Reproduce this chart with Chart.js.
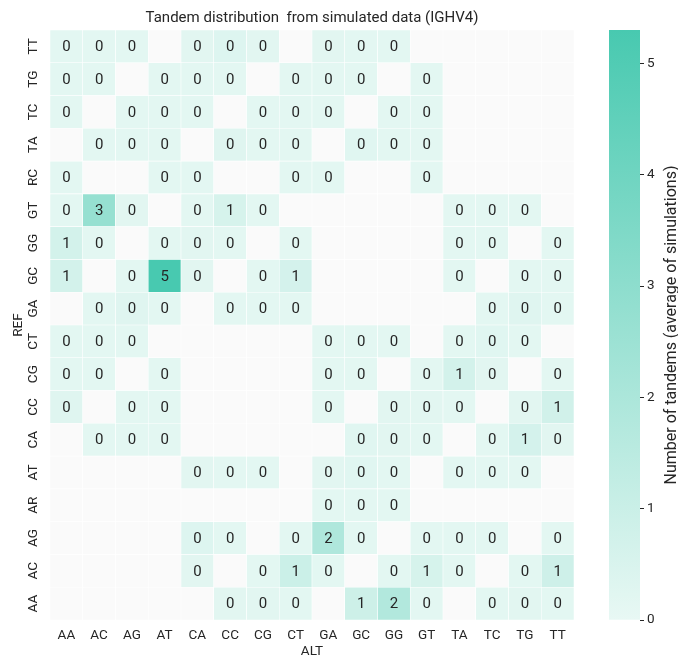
<!DOCTYPE html>
<html><head><meta charset="utf-8">
<script src="https://cdn.jsdelivr.net/npm/chart.js@4"></script>
<style>
html,body{margin:0;padding:0;background:#fff;}
#wrap{position:relative;width:678px;height:660px;overflow:hidden;}
#main{position:absolute;left:0;top:0;}
#cb{position:absolute;left:600px;top:0;}
</style></head><body>
<div id="wrap">
<canvas id="main" width="600" height="660"></canvas>
<canvas id="cb" width="78" height="660"></canvas>
</div>
<script>
const altLabels = ['AA','AC','AG','AT','CA','CC','CG','CT','GA','GC','GG','GT','TA','TC','TG','TT'];
const refLabels = ['TT','TG','TC','TA','RC','GT','GG','GC','GA','CT','CG','CC','CA','AT','AR','AG','AC','AA'];
const _ = null;
const values = [
  [0.15,0.15,0.15,_,0.2,0.35,0.2,_,0.2,0.15,0.15,_,_,_,_,_],        // TT
  [0.15,0.15,_,0.15,0.15,0.15,_,0.15,0.15,0.15,_,0.15,_,_,_,_],       // TG
  [0.15,_,0.15,0.15,0.15,_,0.15,0.15,0.15,_,0.15,0.15,_,_,_,_],       // TC
  [_,0.15,0.15,0.15,_,0.3,0.15,0.15,_,0.25,0.15,0.15,_,_,_,_],        // TA
  [0.15,_,_,0.15,0.15,_,_,0.15,0.15,_,_,0.15,_,_,_,_],                // RC
  [0.15,2.7,0.2,_,0.15,0.6,0.15,_,_,_,_,_,0.15,0.15,0.15,_],          // GT
  [0.7,0.15,_,0.15,0.2,0.15,_,0.15,_,_,_,_,0.15,0.15,_,0.15],         // GG
  [0.7,_,0.15,5.3,0.2,_,0.15,0.65,_,_,_,_,0.15,_,0.15,0.15],          // GC
  [_,0.15,0.3,0.15,_,0.15,0.15,0.15,_,_,_,_,_,0.15,0.3,0.15],         // GA
  [0.15,0.15,0.15,_,_,_,_,_,0.15,0.15,0.15,_,0.15,0.25,0.15,_],       // CT
  [0.15,0.15,_,0.15,_,_,_,_,0.15,0.15,_,0.15,0.7,0.2,_,0.15],         // CG
  [0.3,_,0.15,0.15,_,_,_,_,0.15,_,0.2,0.2,0.15,_,0.2,0.75],           // CC
  [_,0.15,0.15,0.15,_,_,_,_,_,0.25,0.2,0.15,_,0.15,0.65,0.2],         // CA
  [_,_,_,_,0.2,0.15,0.15,_,0.2,0.25,0.15,_,0.15,0.15,0.15,_],         // AT
  [_,_,_,_,_,_,_,_,0.15,0.15,0.15,_,_,_,_,_],                         // AR
  [_,_,_,_,0.35,0.15,_,0.15,1.9,0.15,_,0.15,0.15,0.15,_,0.15],        // AG
  [_,_,_,_,0.2,_,0.15,0.95,0.15,_,0.15,0.6,0.15,_,0.15,0.85],         // AC
  [_,_,_,_,_,0.2,0.2,0.15,_,0.9,1.8,0.15,_,0.15,0.2,0.15]             // AA
];
const cbTicks = [0,1,2,3,4,5];
const vmax = 5.3;

const lowRGB = [232,248,244], highRGB = [72,201,176];
const FONT = 'Roboto';
const TXT = '#262626';
const TICK = 13.5;
function colorFor(v){
  if (v === null) return '#fafafa';
  const t = Math.max(0, Math.min(1, v / vmax));
  const c = lowRGB.map((l,i)=>Math.round(l + (highRGB[i]-l)*t));
  return `rgb(${c[0]},${c[1]},${c[2]})`;
}

const nR = refLabels.length;
const datasets = refLabels.map((r,i)=>({
  label: r,
  vals: values[i],
  data: altLabels.map(()=>1),
  backgroundColor: values[i].map(colorFor),
  borderColor: '#ffffff',
  borderWidth: 0.6,
  borderSkipped: false,
  barPercentage: 1,
  categoryPercentage: 1
})).reverse();

const annot = {
  id: 'annot',
  afterDatasetsDraw(chart){
    const ctx = chart.ctx;
    ctx.save();
    ctx.font = `15px ${FONT}`;
    ctx.fillStyle = TXT;
    ctx.textAlign = 'center';
    ctx.textBaseline = 'middle';
    chart.data.datasets.forEach((ds, di)=>{
      const meta = chart.getDatasetMeta(di);
      meta.data.forEach((bar, j)=>{
        const v = ds.vals[j];
        if (v === null) return;
        const p = bar.getProps(['x','y','base'], true);
        ctx.fillText(String(Math.round(v)), p.x, (p.y + p.base)/2 + 1);
      });
    });
    ctx.restore();
  }
};

new Chart(document.getElementById('main'), {
  type: 'bar',
  data: { labels: altLabels, datasets },
  options: {
    responsive: false,
    animation: false,
    layout: { padding: { left: 0, right: 26, top: 0, bottom: 0 } },
    plugins: {
      legend: { display: false },
      tooltip: { enabled: false },
      title: {
        display: true,
        fullSize: false,
        text: 'Tandem distribution  from simulated data (IGHV4)',
        font: { family: FONT, size: 15, weight: 'normal' },
        color: TXT,
        padding: { top: 9, bottom: 3 }
      }
    },
    scales: {
      x: {
        stacked: true,
        grid: { display: false, drawTicks: false },
        border: { display: false },
        ticks: { font: { family: FONT, size: TICK }, color: TXT, padding: 8 },
        title: { display: true, text: 'ALT', font: { family: FONT, size: TICK }, color: TXT, padding: { top: 0, bottom: 0 } },
        afterFit: s => { s.height = 40; }
      },
      y: {
        type: 'linear',
        stacked: true,
        min: 0, max: nR,
        afterBuildTicks: s => { s.ticks = refLabels.map((_,i)=>({ value: i + 0.5 })); },
        grid: { display: false, drawTicks: false },
        border: { display: false },
        ticks: {
          autoSkip: false,
          minRotation: 90, maxRotation: 90,
          crossAlign: 'center',
          padding: 7,
          font: { family: FONT, size: TICK }, color: TXT,
          callback: v => refLabels[nR - 1 - Math.floor(v)]
        },
        title: { display: true, text: 'REF', font: { family: FONT, size: TICK }, color: TXT, padding: { top: 11, bottom: 0 } },
        afterFit: s => { s.width = 50; }
      }
    }
  },
  plugins: [annot]
});

const cbTitle = {
  id: 'cbTitle',
  afterDraw(chart){
    const ctx = chart.ctx, ca = chart.chartArea;
    ctx.save();
    ctx.translate(76, (ca.top + ca.bottom)/2);
    ctx.rotate(-Math.PI/2);
    ctx.font = `16px ${FONT}`;
    ctx.fillStyle = TXT;
    ctx.textAlign = 'center';
    ctx.textBaseline = 'alphabetic';
    ctx.fillText('Number of tandems (average of simulations)', 0, 0);
    ctx.restore();
  }
};

new Chart(document.getElementById('cb'), {
  type: 'bar',
  data: {
    labels: [''],
    datasets: [{
      data: [[0, vmax]],
      backgroundColor: (c) => {
        const ca = c.chart.chartArea;
        if (!ca) return colorFor(vmax);
        const g = c.chart.ctx.createLinearGradient(0, ca.bottom, 0, ca.top);
        g.addColorStop(0, colorFor(0));
        g.addColorStop(1, colorFor(vmax));
        return g;
      },
      borderWidth: 0,
      barPercentage: 1,
      categoryPercentage: 1
    }]
  },
  options: {
    responsive: false,
    animation: false,
    layout: { padding: { left: 9, right: 0, top: 30, bottom: 40 } },
    plugins: { legend: { display: false }, tooltip: { enabled: false }, title: { display: false } },
    scales: {
      x: { display: false },
      y: {
        position: 'right',
        min: 0, max: vmax,
        afterBuildTicks: s => { s.ticks = cbTicks.map(v => ({ value: v })); },
        grid: { drawOnChartArea: false, drawTicks: true, tickLength: 4, color: TXT, tickWidth: 1 },
        border: { display: false },
        ticks: { font: { family: FONT, size: TICK }, color: TXT, padding: 3 },
        afterFit: s => { s.width = 38; }
      }
    }
  },
  plugins: [cbTitle]
});
</script>
</body></html>
